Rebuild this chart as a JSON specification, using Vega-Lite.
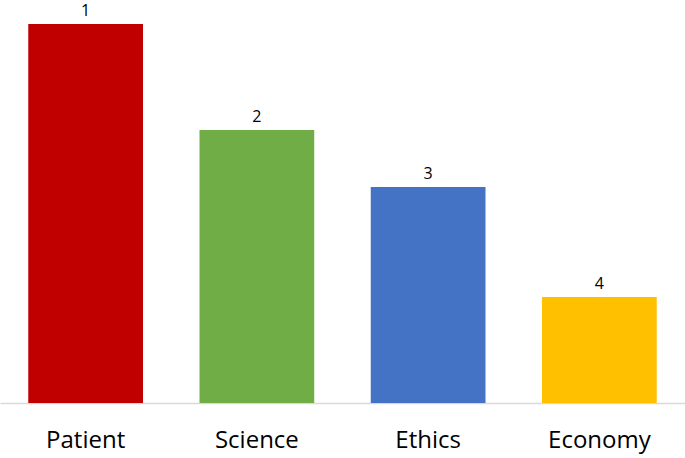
{
  "$schema": "https://vega.github.io/schema/vega-lite/v6.json",
  "width": 685,
  "height": 403,
  "autosize": {"type": "none"},
  "padding": {"left": 0, "top": 0, "right": 0, "bottom": 55},
  "background": "white",
  "config": {"view": {"stroke": null}, "font": "Open Sans"},
  "data": {
    "values": [
      {"category": "Patient", "value": 379, "rank": "1", "color": "#C00000"},
      {"category": "Science", "value": 273, "rank": "2", "color": "#70AD47"},
      {"category": "Ethics", "value": 216, "rank": "3", "color": "#4472C4"},
      {"category": "Economy", "value": 106, "rank": "4", "color": "#FFC000"}
    ]
  },
  "encoding": {
    "x": {
      "field": "category",
      "type": "nominal",
      "sort": null,
      "scale": {"paddingInner": 0.33, "paddingOuter": 0.165},
      "axis": {
        "title": null,
        "labelAngle": 0,
        "labelFontSize": 24,
        "labelColor": "#000000",
        "labelPadding": 25,
        "ticks": false,
        "domainColor": "#D9D9D9",
        "domainWidth": 1.5,
        "grid": false
      }
    },
    "y": {
      "field": "value",
      "type": "quantitative",
      "scale": {"domain": [0, 403], "nice": false},
      "axis": null
    }
  },
  "layer": [
    {
      "mark": {"type": "bar"},
      "encoding": {"color": {"field": "color", "type": "nominal", "scale": null}}
    },
    {
      "mark": {"type": "text", "baseline": "alphabetic", "dy": -8, "fontSize": 16, "color": "#000000"},
      "encoding": {"text": {"field": "rank"}}
    }
  ]
}
